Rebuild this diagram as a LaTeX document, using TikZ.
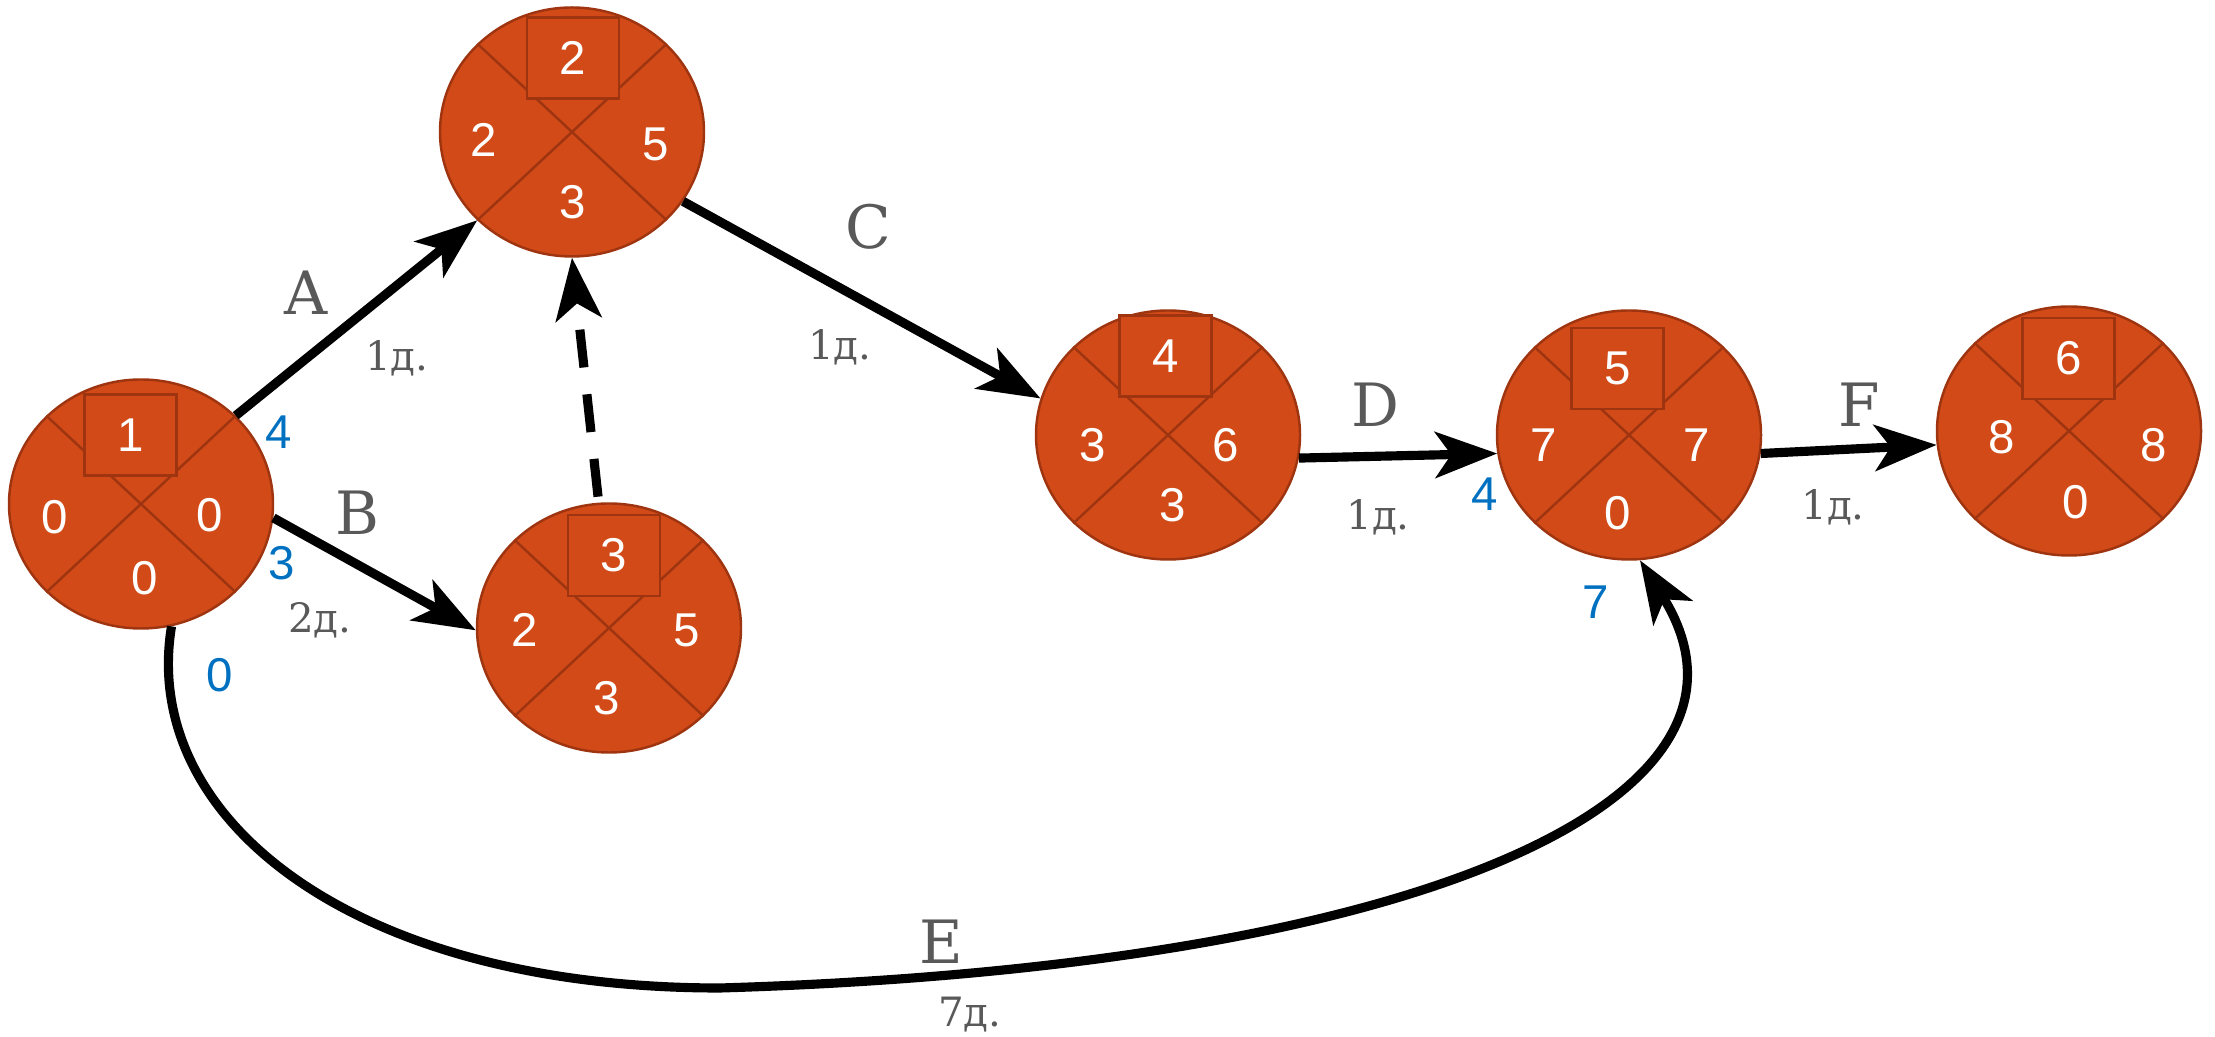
\documentclass[tikz,border=0pt]{standalone}
\usepackage{fontspec}
\setmainfont{DejaVu Serif}
\newfontfamily\numfont{Liberation Sans}
\usetikzlibrary{shapes.geometric, arrows.meta}
\definecolor{evfill}{HTML}{D14A18}
\definecolor{evline}{HTML}{9E3510}
\definecolor{lblgray}{HTML}{595959}
\definecolor{lblblue}{HTML}{0070C0}
\tikzstyle{event} = [ellipse, draw=evline, fill=evfill, line width=.7pt, minimum width=2.64cm, minimum height=2.49cm, inner sep=0pt]
\tikzstyle{cross} = [draw=evline, line width=.7pt]
\tikzstyle{numbox} = [rectangle, draw=evline, fill=evfill, line width=.7pt, minimum width=.92cm, minimum height=.81cm, inner sep=0pt, text=white, font=\numfont\fontsize{13.5}{15}\selectfont]
\tikzstyle{num} = [text=white, inner sep=0pt, font=\numfont\fontsize{13.5}{15}\selectfont]
\tikzstyle{work} = [text=lblgray, inner sep=0pt, font=\fontsize{17}{20}\selectfont]
\tikzstyle{dur} = [text=lblgray, inner sep=0pt, font=\fontsize{11.5}{14}\selectfont]
\tikzstyle{early} = [text=lblblue, inner sep=0pt, font=\numfont\fontsize{13.5}{15}\selectfont]
\tikzstyle{arrow} = [line width=2.6pt, -{Stealth[length=6.2mm, width=4.6mm, inset=1.6mm]}]

\begin{document}
\begin{tikzpicture}
\useasboundingbox (0,0) rectangle (22.15,10.37);
% events
\foreach \n/\x/\y in {1/1.41/5.33, 2/5.72/9.05, 3/6.09/4.09, 4/11.68/6.02, 5/16.29/6.02, 6/20.69/6.06}{
     \node[event] (n\n) at (\x,\y) {};
     \draw[cross] (n\n.43) -- (n\n.223);
     \draw[cross] (n\n.137) -- (n\n.317);
}
% event numbers
\foreach \n/\x/\y in {1/1.305/6.02, 2/5.73/9.79, 3/6.14/4.815, 4/11.655/6.81, 5/16.175/6.685, 6/20.685/6.785}{
     \node[numbox] (b\n) at (\x,\y) {\n};
}
% early / late / reserve
\node[num] (n1l) at (0.55,5.20) {0};
\node[num] (n1r) at (2.10,5.22) {0};
\node[num] (n1b) at (1.45,4.59) {0};
\node[num] (n2l) at (4.84,8.97) {2};
\node[num] (n2r) at (6.56,8.93) {5};
\node[num] (n2b) at (5.73,8.35) {3};
\node[num] (n3l) at (5.25,4.07) {2};
\node[num] (n3r) at (6.87,4.07) {5};
\node[num] (n3b) at (6.07,3.39) {3};
\node[num] (n4l) at (10.93,5.92) {3};
\node[num] (n4r) at (12.26,5.92) {6};
\node[num] (n4b) at (11.73,5.32) {3};
\node[num] (n5l) at (15.44,5.92) {7};
\node[num] (n5r) at (16.97,5.92) {7};
\node[num] (n5b) at (16.18,5.24) {0};
\node[num] (n6l) at (20.02,6.00) {8};
\node[num] (n6r) at (21.54,5.92) {8};
\node[num] (n6b) at (20.76,5.35) {0};

% works
\draw[arrow] (n1.43) -- (n2.223);
\draw[arrow] (n1.-6) -- (n3.181);
\draw[arrow] (n2.-32) -- (n4.164);
\draw[arrow] (n4.-10) -- (n5.188);
\draw[arrow] (n5.-8) -- (n6.186);
\draw[arrow, dash pattern=on .38cm off .27cm] ([yshift=.06cm]n3.95) -- (n2.270);
\coordinate (ejoin) at (7.20,0.49);
\draw[arrow] (n1.-76) .. controls (1.40,2.20) and (3.50,0.49) .. (ejoin) .. controls (14.20,0.70) and (17.90,2.37) .. (n5.-85);

% work names and durations
\node[work] (wa) at (3.06,7.44) {A};
\node[dur] (da) at (3.97,6.79) {1д.};
\node[work] (wb) at (3.57,5.24) {B};
\node[dur] (db) at (3.20,4.17) {2д.};
\node[work] (wc) at (8.68,8.10) {C};
\node[dur] (dc) at (8.40,6.90) {1д.};
\node[work] (wd) at (13.75,6.32) {D};
\node[dur] (dd) at (13.78,5.20) {1д.};
\node[work] (we) at (9.41,0.95) {E};
\node[dur] (de) at (9.70,0.22) {7д.};
\node[work] (wf) at (18.59,6.32) {F};
\node[dur] (df) at (18.33,5.30) {1д.};

% early starts
\node[early] (ea) at (2.79,6.05) {4};
\node[early] (eb) at (2.82,4.74) {3};
\node[early] (ee) at (2.20,3.62) {0};
\node[early] (ed) at (14.85,5.43) {4};
\node[early] (ef) at (15.96,4.35) {7};
\end{tikzpicture}
\end{document}
